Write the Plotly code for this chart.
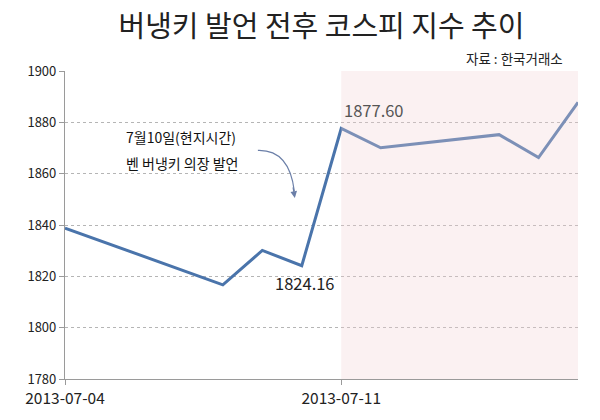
import plotly.graph_objects as go

dates = ["2013-07-04", "2013-07-05", "2013-07-08", "2013-07-09", "2013-07-10",
         "2013-07-11", "2013-07-12", "2013-07-15", "2013-07-16", "2013-07-17"]
kospi = [1838.8, 1833.3, 1816.7, 1830.1, 1824.16, 1877.60, 1870.1, 1875.2, 1866.3, 1887.8]
y_ticks = [1780, 1800, 1820, 1840, 1860, 1880, 1900]
x_ticks = ["2013-07-04", "2013-07-11"]
x_ticktext = ["2013-07-04", "2013-07-11"]
shade_start, shade_end = "2013-07-11", "2013-07-17"

FONT = "Noto Sans CJK KR"

fig = go.Figure()
fig.add_trace(go.Scatter(x=dates, y=kospi, mode="lines",
                         line=dict(color="#4a74ab", width=3),
                         hoverinfo="skip", showlegend=False))

fig.add_shape(type="rect", xref="x", yref="paper", x0=shade_start, x1=shade_end,
              y0=0, y1=1, fillcolor="rgba(242,208,212,0.3)", line_width=0, layer="above")

# value labels
fig.add_annotation(x="2013-07-11", y=kospi[5], text="1877.60", showarrow=False,
                   xanchor="left", yanchor="bottom", xshift=1, yshift=4,
                   font=dict(family=FONT, size=16.5, color="#555555"))
fig.add_annotation(x="2013-07-10", y=kospi[4], text="1824.16", showarrow=False,
                   xanchor="center", yanchor="top", xshift=3, yshift=-3,
                   font=dict(family=FONT, size=16.5, color="#222222"))

# event note
fig.add_annotation(xref="paper", yref="paper", x=0.227, y=0.787, xanchor="center",
                   yanchor="middle", text="7월10일(현지시간)", showarrow=False,
                   font=dict(family=FONT, size=14, color="#111111"))
fig.add_annotation(xref="paper", yref="paper", x=0.229, y=0.70, xanchor="center",
                   yanchor="middle", text="벤 버냉키 의장 발언", showarrow=False,
                   font=dict(family=FONT, size=14, color="#111111"))
fig.add_shape(type="path", xref="paper", yref="paper",
              path="M 0.376 0.742 Q 0.437 0.745 0.447 0.61",
              line=dict(color="#6b7fa8", width=1.2))
fig.add_annotation(xref="paper", yref="paper", x=0.448, y=0.588, ax=-2, ay=-12,
                   text="", showarrow=True, arrowhead=2, arrowsize=1.1,
                   arrowwidth=1.2, arrowcolor="#6b7fa8")

fig.add_annotation(xref="paper", yref="paper", x=0.974, y=1.041, text="자료 : 한국거래소",
                   showarrow=False, xanchor="right", yanchor="middle",
                   font=dict(family=FONT, size=13.5, color="#222222"))

fig.update_layout(
    width=600, height=420,
    margin=dict(l=65, r=22, t=71, b=35),
    paper_bgcolor="white", plot_bgcolor="white",
    title=dict(text="버냉키 발언 전후 코스피 지수 추이", x=0.5, xanchor="center",
               y=0.935, yanchor="middle", xref="paper",
               font=dict(family=FONT, size=29, color="#222222")),
    font=dict(family=FONT, color="#222222"),
)
fig.update_xaxes(type="date", range=["2013-07-04", "2013-07-17"],
                 tickvals=x_ticks, ticktext=x_ticktext, showgrid=False,
                 showline=True, linecolor="#9a9a9a", linewidth=1.2,
                 ticks="outside", ticklen=5, tickcolor="#9a9a9a",
                 tickfont=dict(family=FONT, size=15.5, color="#222222"), zeroline=False)
fig.update_yaxes(range=[1780, 1900], tickvals=y_ticks,
                 showgrid=True, gridcolor="#b5b5b5", griddash="dot", gridwidth=1,
                 showline=True, linecolor="#9a9a9a", linewidth=1.2,
                 ticks="outside", ticklen=5, tickcolor="#9a9a9a",
                 tickfont=dict(family=FONT, size=13, color="#222222"), zeroline=False)

fig.write_html("out.html")
